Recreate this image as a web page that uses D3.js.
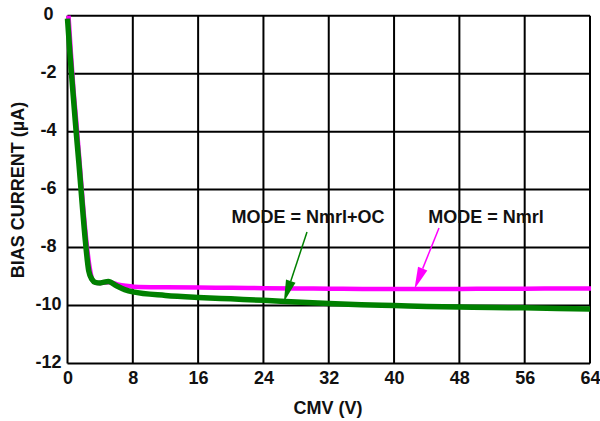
<!DOCTYPE html>
<html><head><meta charset="utf-8">
<script src="https://cdn.jsdelivr.net/npm/d3@7"></script>
<style>body{margin:0;background:#fff}svg{display:block}text{font-family:"Liberation Sans",Arial,sans-serif;font-weight:bold}</style>
</head><body><svg id="c" width="600" height="421"></svg>
<script>
const xTicks = [0, 8, 16, 24, 32, 40, 48, 56, 64];
const yTicks = [0, -2, -4, -6, -8, -10, -12];
const cmv = [0, 0.3, 0.6, 1.0, 1.4, 1.8, 2.2, 2.6, 3.0, 3.4, 4.0, 5.0, 6.0, 7.0, 8, 12, 16, 20, 24, 28, 32, 36, 40, 44, 48, 52, 56, 60, 64];
const nmrl = [0, -1.3, -2.5, -3.8, -5.2, -6.6, -7.8, -8.7, -9.15, -9.22, -9.22, -9.2, -9.27, -9.32, -9.35, -9.37, -9.38, -9.39, -9.4, -9.41, -9.42, -9.43, -9.43, -9.43, -9.43, -9.42, -9.42, -9.41, -9.41];
const nmrlOC = [-0.1, -1.3, -2.4, -3.8, -5.1, -6.5, -7.8, -8.8, -9.1, -9.2, -9.22, -9.17, -9.32, -9.45, -9.53, -9.65, -9.72, -9.77, -9.82, -9.88, -9.93, -9.97, -10.0, -10.03, -10.05, -10.07, -10.08, -10.1, -10.12];
const labels = [
  {text: "MODE = Nmrl+OC", tx: 308, ty: 223, from: [307, 232], x: 26.5, y: -9.88, color: "#008000"},
  {text: "MODE = Nmrl", tx: 486, ty: 223, from: [439, 228], x: 42.5, y: -9.43, color: "#ff00ff"}
];

const svg = d3.select("#c");
const x = d3.scaleLinear().domain([0, 64]).range([67.5, 590]);
const y = d3.scaleLinear().domain([-12, 0]).range([363.5, 15.7]);

// grid
svg.append("g").selectAll("line").data(xTicks).join("line")
  .attr("x1", d => x(d)).attr("x2", d => x(d)).attr("y1", y(0)).attr("y2", y(-12))
  .attr("stroke", "#000").attr("stroke-width", 2);
svg.append("g").selectAll("line").data(yTicks).join("line")
  .attr("y1", d => y(d)).attr("y2", d => y(d)).attr("x1", x(0)).attr("x2", x(64))
  .attr("stroke", "#000").attr("stroke-width", 2);

// axes
const xAxis = svg.append("g").attr("transform", `translate(0,${y(-12)})`)
  .call(d3.axisBottom(x).tickValues(xTicks).tickSize(0).tickPadding(8));
const yAxis = svg.append("g").attr("transform", `translate(${x(0)},0)`)
  .call(d3.axisLeft(y).tickValues(yTicks).tickSize(0).tickPadding(19).tickFormat(d => d === 0 ? "0" : "-" + Math.abs(d)));
[xAxis, yAxis].forEach(a => {
  a.select(".domain").remove();
  a.selectAll("text").attr("font-size", 18).attr("font-weight", "bold").attr("fill", "#111")
    .attr("font-family", '"Liberation Sans",Arial,sans-serif');
});
yAxis.selectAll("text").attr("text-anchor", "middle").attr("dy", "0.2em");

// lines
const line = d3.line().x((d, i) => x(cmv[i])).y(d => y(d)).curve(d3.curveMonotoneX);
svg.append("path").datum(nmrl).attr("d", line).attr("fill", "none")
  .attr("stroke", "#ff00ff").attr("stroke-width", 4.5).attr("transform", "translate(1,0)");
svg.append("path").datum(nmrlOC).attr("d", line).attr("fill", "none")
  .attr("stroke", "#008000").attr("stroke-width", 5.5);

// annotations
labels.forEach(l => {
  svg.append("text").attr("x", l.tx).attr("y", l.ty).attr("text-anchor", "middle")
    .attr("font-size", 18).attr("fill", "#111").text(l.text);
  const tx = x(l.x), ty = y(l.y);
  const fx = l.from[0], fy = l.from[1];
  const ang = Math.atan2(ty - fy, tx - fx);
  const len = 22, w = 5;
  const bx = tx - len * Math.cos(ang), by = ty - len * Math.sin(ang);
  svg.append("line").attr("x1", fx).attr("y1", fy).attr("x2", bx).attr("y2", by)
    .attr("stroke", l.color).attr("stroke-width", 1.5);
  const px = -Math.sin(ang), py = Math.cos(ang);
  svg.append("path").attr("d", `M${tx},${ty}L${bx + px * w},${by + py * w}L${bx - px * w},${by - py * w}Z`)
    .attr("fill", l.color);
});

// axis titles
svg.append("text").attr("x", 328).attr("y", 414).attr("text-anchor", "middle")
  .attr("font-size", 18).attr("fill", "#111").text("CMV (V)");
svg.append("text").attr("transform", "translate(24,190) rotate(-90)").attr("text-anchor", "middle")
  .attr("font-size", 18).attr("fill", "#111").text("BIAS CURRENT (µA)");
</script></body></html>
